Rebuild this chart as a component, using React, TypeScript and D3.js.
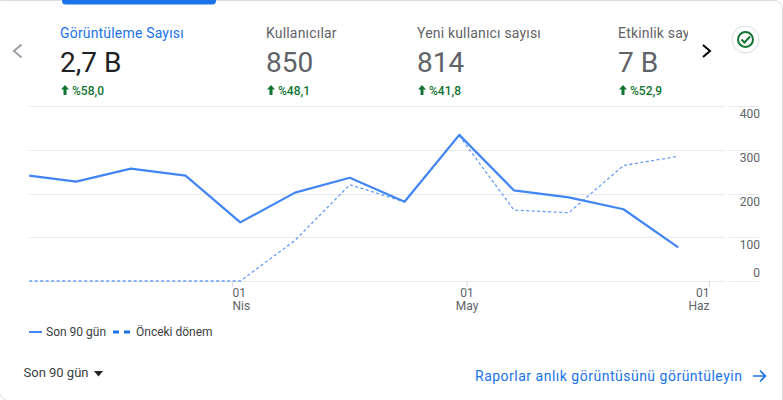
import React, { useEffect, useRef } from 'react';
import * as d3 from 'd3';

const dates = ['03-06', '03-12', '03-19', '03-26', '04-02', '04-09', '04-16', '04-23', '04-30', '05-07', '05-14', '05-21', '05-28'];
const current = [241, 227, 257, 241, 134, 202, 236, 181, 334, 207, 191, 164, 77];
const previous = [0, 0, 0, 0, 0, 93, 220, 181, 332, 162, 156, 264, 285];
const yTicks = [400, 300, 200, 100, 0];
const xTicks = [
  { date: '04-01', day: '01', month: 'Nis', anchor: 'start' },
  { date: '05-01', day: '01', month: 'May', anchor: 'middle' },
  { date: '06-01', day: '01', month: 'Haz', anchor: 'end' }
];
const cards = [
  { title: 'Görüntüleme Sayısı', value: '2,7 B', delta: '%58,0' },
  { title: 'Kullanıcılar', value: '850', delta: '%48,1' },
  { title: 'Yeni kullanıcı sayısı', value: '814', delta: '%41,8' },
  { title: 'Etkinlik sayısı', value: '7 B', delta: '%52,9' }
];
const cardX = [60, 266, 417, 618];

const FONT = 'Roboto, sans-serif';
const BLUE = '#4285f4';
const GREY = '#5f6368';
const GREEN = '#137333';
const parse = (s: string) => new Date(`2024-${s}T00:00:00Z`);

const App: React.FC = () => {
  const svgRef = useRef<SVGSVGElement>(null);

  useEffect(() => {
    if (!svgRef.current) return;
    const svg = d3.select(svgRef.current);
    svg.selectAll('*').remove();

    const x = d3.scaleUtc().domain([parse('04-01'), parse('06-01')]).range([232.5, 709.5]);
    const y = d3.scaleLinear().domain([0, 400]).range([281, 106]);

    // card outline and selected tab
    svg.append('path')
      .attr('d', 'M0.5,0.5 H773 Q782.5,0.5 782.5,10 V400')
      .attr('fill', 'none').attr('stroke', '#dadce0');
    svg.append('path')
      .attr('d', 'M0,394 Q1,399 6,400')
      .attr('fill', 'none').attr('stroke', '#dadce0');
    svg.append('path')
      .attr('d', 'M62,0 H216 V1 Q216,4.5 212,4.5 H66 Q62,4.5 62,1 Z')
      .attr('fill', '#1a73e8');

    // grid
    svg.append('g').selectAll('line').data(yTicks).enter().append('line')
      .attr('x1', 29).attr('x2', 725)
      .attr('y1', d => Math.round(y(d)) + 0.5).attr('y2', d => Math.round(y(d)) + 0.5)
      .attr('stroke', '#e8eaed');
    svg.append('g').selectAll('line').data(yTicks).enter().append('line')
      .attr('x1', 729).attr('x2', 759)
      .attr('y1', d => Math.round(y(d)) + 0.5).attr('y2', d => Math.round(y(d)) + 0.5)
      .attr('stroke', '#e8eaed');

    // y labels
    svg.append('g').selectAll('text').data(yTicks).enter().append('text')
      .attr('x', 760)
      .attr('y', d => (d === 0 ? y(d) - 4 : y(d) + 12))
      .attr('text-anchor', 'end')
      .attr('font-family', FONT).attr('font-size', 12).attr('fill', GREY)
      .text(d => d);

    // x ticks and labels
    const tick = svg.append('g').selectAll('g').data(xTicks).enter().append('g')
      .attr('transform', d => `translate(${x(parse(d.date))},0)`);
    tick.append('line').attr('y1', 281).attr('y2', 287).attr('stroke', '#dadce0');
    tick.append('text').attr('y', 297).attr('text-anchor', d => d.anchor)
      .attr('font-family', FONT).attr('font-size', 12).attr('fill', GREY).text(d => d.day);
    tick.append('text').attr('y', 309.5).attr('text-anchor', d => d.anchor)
      .attr('font-family', FONT).attr('font-size', 12).attr('fill', GREY).text(d => d.month);

    // series
    const line = d3.line<number>()
      .x((_, i) => x(parse(dates[i])))
      .y(d => y(d));
    svg.append('path').datum(previous)
      .attr('d', line)
      .attr('fill', 'none').attr('stroke', BLUE).attr('stroke-opacity', 0.8)
      .attr('stroke-width', 1.3).attr('stroke-dasharray', '3,2.5');
    svg.append('path').datum(current)
      .attr('d', line)
      .attr('fill', 'none').attr('stroke', BLUE).attr('stroke-width', 2.2).attr('stroke-linejoin', 'round');

    // metric cards
    svg.append('defs').append('clipPath').attr('id', 'cards-clip')
      .append('rect').attr('x', 0).attr('y', 0).attr('width', 688).attr('height', 110);
    const card = svg.append('g').attr('clip-path', 'url(#cards-clip)')
      .selectAll('g').data(cards).enter().append('g')
      .attr('transform', (_, i) => `translate(${cardX[i]},0)`);
    card.append('text').attr('y', 38).attr('font-family', FONT).attr('font-size', 14)
      .attr('letter-spacing', 0.18)
      .attr('fill', (_, i) => (i === 0 ? '#1a73e8' : GREY)).text(d => d.title);
    card.append('text').attr('y', 72).attr('font-family', FONT).attr('font-size', 28)
      .attr('fill', (_, i) => (i === 0 ? '#202124' : GREY)).text(d => d.value);
    card.append('path')
      .attr('d', 'M5,85 L9,89.5 H6.5 V95 H3.5 V89.5 H1 Z')
      .attr('fill', GREEN);
    card.append('text').attr('x', 12).attr('y', 95).attr('font-family', FONT).attr('font-size', 12)
      .attr('font-weight', 500).attr('fill', GREEN).text(d => d.delta);

    // chevrons
    svg.append('path').attr('d', 'M21.5,44.5 L14,51 L21.5,57.5')
      .attr('fill', 'none').attr('stroke', '#9aa0a6').attr('stroke-width', 2);
    svg.append('path').attr('d', 'M703,45 L710,51 L703,57')
      .attr('fill', 'none').attr('stroke', '#000').attr('stroke-width', 2);

    // check badge
    svg.append('circle').attr('cx', 745.5).attr('cy', 39.5).attr('r', 13.5)
      .attr('fill', '#fff').attr('stroke', '#dadce0');
    svg.append('circle').attr('cx', 745.5).attr('cy', 39.5).attr('r', 7.5)
      .attr('fill', 'none').attr('stroke', GREEN).attr('stroke-width', 2);
    svg.append('path').attr('d', 'M741.5,39.5 L744.5,42.5 L750,36.5')
      .attr('fill', 'none').attr('stroke', GREEN).attr('stroke-width', 2);

    // legend
    svg.append('line').attr('x1', 29).attr('x2', 42).attr('y1', 332).attr('y2', 332)
      .attr('stroke', BLUE).attr('stroke-width', 2);
    svg.append('text').attr('x', 46).attr('y', 336).attr('font-family', FONT).attr('font-size', 12)
      .attr('fill', '#3c4043').text('Son 90 gün');
    svg.append('line').attr('x1', 113).attr('x2', 131).attr('y1', 332).attr('y2', 332)
      .attr('stroke', '#1a73e8').attr('stroke-width', 3).attr('stroke-dasharray', '6,5');
    svg.append('text').attr('x', 136).attr('y', 336).attr('font-family', FONT).attr('font-size', 12)
      .attr('fill', '#3c4043').text('Önceki dönem');

    // footer
    svg.append('text').attr('x', 23.5).attr('y', 377).attr('font-family', FONT).attr('font-size', 13)
      .attr('fill', '#3c4043').text('Son 90 gün');
    svg.append('path').attr('d', 'M94,371 H103 L98.5,376.5 Z').attr('fill', '#202124');
    svg.append('text').attr('x', 475).attr('y', 381).attr('font-family', FONT).attr('font-size', 14)
      .attr('letter-spacing', 0.5)
      .attr('fill', '#1a73e8').text('Raporlar anlık görüntüsünü görüntüleyin');
    svg.append('path').attr('d', 'M753,376 H765 M760,370.5 L765.5,376 L760,381.5')
      .attr('fill', 'none').attr('stroke', '#1a73e8').attr('stroke-width', 1.6);
  }, []);

  return (
    <svg
      ref={svgRef}
      width={783}
      height={400}
      style={{ position: 'fixed', top: 0, left: 0, background: '#fff' }}
    />
  );
};

export default App;
